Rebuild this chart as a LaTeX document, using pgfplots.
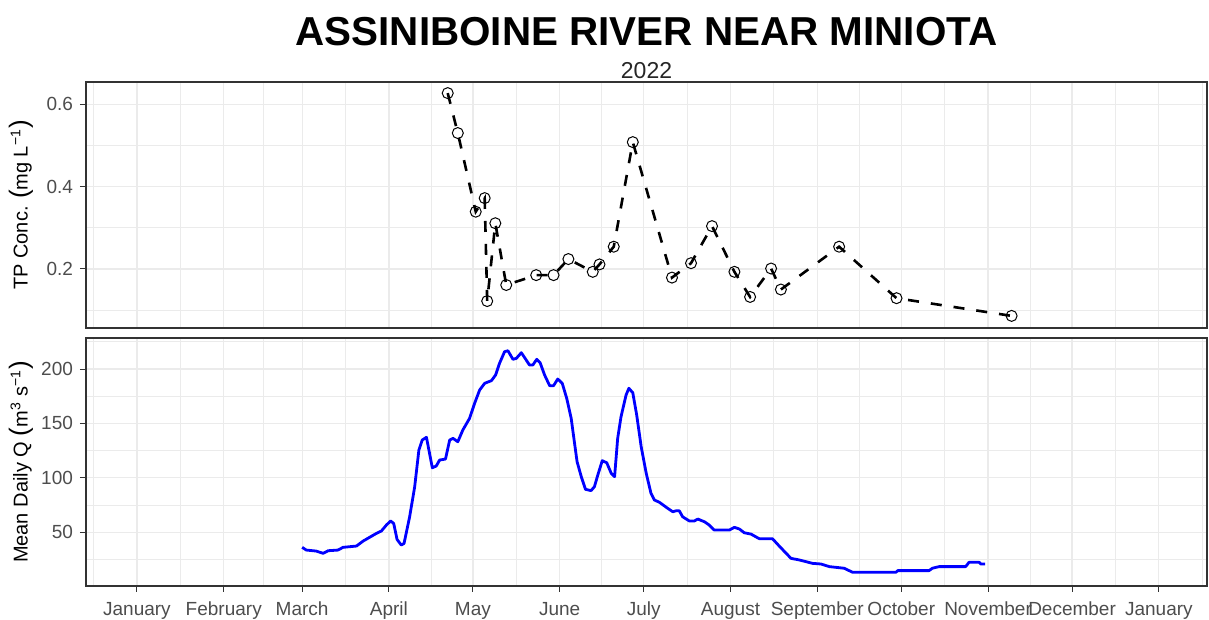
\documentclass[border=0pt]{standalone}
\usepackage{fontspec}
\setmainfont{Liberation Sans}
\usepackage{pgfplots}
\pgfplotsset{compat=1.18}
\definecolor{gridc}{HTML}{EBEBEB}
\definecolor{framec}{HTML}{333333}
\definecolor{tickc}{HTML}{4D4D4D}
\pgfplotsset{
  panel/.style={
    scale only axis, width=560.5pt, xmin=-18.2, xmax=382.2,
    axis line style={framec, line width=0.9pt},
    tick align=outside, major tick length=3pt, minor tick length=0pt,
    tick style={framec, line width=0.5pt},
    xtick={0,31,59,90,120,151,181,212,243,273,304,334,365},
    minor xtick={-15.5,15.5,45,74.5,105,135.5,166,196.5,227.5,258,288.5,319,349.5,380.5},
    grid=both,
    major grid style={gridc, line width=0.6pt},
    minor grid style={gridc, line width=0.4pt},
    ytick pos=left, xtick pos=left,
    ticklabel style={font=\fontsize{9.5}{11}\selectfont, text=tickc},
    xticklabel style={yshift=-1.5pt},
    /pgf/number format/assume math mode=true,
    ylabel style={font=\fontsize{10}{12}\selectfont, at={(axis description cs:-0.058,0.5)}, anchor=center},
  }
}
\newcommand{\bp}[1]{{\fontsize{13}{13}\selectfont #1}}
\begin{document}
\begin{tikzpicture}
\useasboundingbox (0,0) rectangle (604.5pt,310pt);
\node[font=\bfseries\fontsize{20.2}{22}\selectfont] at (323.25pt,294pt) {ASSINIBOINE RIVER NEAR MINIOTA};
\node[font=\fontsize{11.5}{13}\selectfont, text=black!85] at (323.25pt,274.5pt) {2022};
% top panel
\begin{axis}[panel, anchor=south west, at={(43pt,146pt)}, height=123pt,
  ymin=0.0566, ymax=0.654, ytick={0.2,0.4,0.6}, yticklabels={0.2,0.4,0.6},
  minor ytick={0.1,0.3,0.5}, xticklabels={}, xtick style={draw=none},
  ylabel={TP Conc. \bp{(}mg L\textsuperscript{−1}\bp{)}}]
\addplot[black, line width=1.3pt, dash pattern=on 5.5pt off 6pt, mark=o, mark size=2.75pt,
  mark options={solid, line width=0.5pt}] coordinates {
(111.0,0.627) (114.6,0.530) (121.0,0.339) (124.2,0.372) (125.1,0.122) (128.0,0.311)
(131.9,0.161) (142.6,0.185) (148.8,0.185) (154.1,0.224) (162.8,0.193) (165.2,0.211)
(170.3,0.254) (177.1,0.508) (191.1,0.179) (197.9,0.214) (205.4,0.304) (213.4,0.193)
(219.0,0.132) (226.5,0.201) (230.0,0.150) (250.8,0.254) (271.3,0.129) (312.4,0.086)
};
\end{axis}
% bottom panel
\begin{axis}[panel, anchor=south west, at={(43pt,17pt)}, height=124pt,
  ymin=0.7, ymax=228.5, ytick={50,100,150,200}, yticklabels={50,100,150,200},
  minor ytick={25,75,125,175,225},
  xticklabels={January,February,March,April,May,June,July,August,September,October,November,December,January},
  ylabel={Mean Daily Q \bp{(}m\textsuperscript{3} s\textsuperscript{−1}\bp{)}}]
\addplot[color={rgb,255:red,0;green,0;blue,255}, line width=1.4pt, line join=round] coordinates {
(59,36.2) (60.5,33.7) (64,32.8) (66.5,30.7) (68.3,33.1) (71.8,33.7) (73.6,36.2) (78.4,37.4)
(80.8,42.0) (85.5,49.0) (87.3,51.2) (89.1,56.7) (90.6,60.4) (91.7,58.2) (92.9,43.5) (94.4,38.3)
(95.4,39.8) (97.4,64.3) (99.2,91.9) (100.7,125.6) (101.9,134.8) (103.4,137.3) (104.5,122.6)
(105.5,109.3) (106.9,110.9) (108.1,116.4) (110.2,117.3) (111.7,134.8) (112.9,136.3) (114.6,133.2)
(116.4,144.0) (118.8,154.7) (120.6,168.5) (122.4,180.7) (124.2,186.9) (126.6,189.3) (128.1,194.5)
(129.5,205.2) (131.3,215.9) (132.5,216.8) (134.3,208.9) (135.5,209.8) (137.3,215.0) (140.2,203.7)
(141.4,203.7) (142.8,208.9) (144.0,205.8) (145.6,194.5) (147.4,184.7) (148.8,184.7) (150.3,190.8)
(151.9,186.9) (153.5,173.1) (155.1,154.7) (156.3,131.8) (157.2,114.9) (158.7,101.1) (160.2,89.5)
(162.2,88.3) (163.4,91.9) (164.6,102.6) (166.2,115.8) (167.8,113.9) (169.4,104.2) (170.6,101.1)
(171.7,136.3) (172.9,156.2) (174.7,176.1) (175.7,182.3) (177.1,178.2) (178.5,157.7) (180.1,128.6)
(181.9,104.2) (183.6,85.8) (184.8,79.7) (186.6,77.6) (189.6,72.0) (191.4,68.9) (192.6,69.8)
(193.7,69.8) (194.9,64.3) (197.3,60.4) (199.1,60.4) (200.3,62.2) (202.7,59.7) (204.4,56.7)
(206.2,52.1) (211.6,52.1) (213.4,54.6) (215.2,53.0) (216.9,49.6) (219.3,48.4) (222.3,44.1)
(227.0,44.1) (229.4,37.4) (233.6,26.1) (236.6,24.6) (241.3,21.5) (244.3,20.9) (247.3,18.5)
(252.6,17.0) (255.6,13.3) (271.1,13.3) (271.7,14.8) (282.9,14.8) (284.1,17.0) (286.5,18.5)
(296.0,18.5) (297.2,22.5) (300.8,22.5) (301.4,20.9) (302.9,20.9)
};
\end{axis}
\end{tikzpicture}
\end{document}
